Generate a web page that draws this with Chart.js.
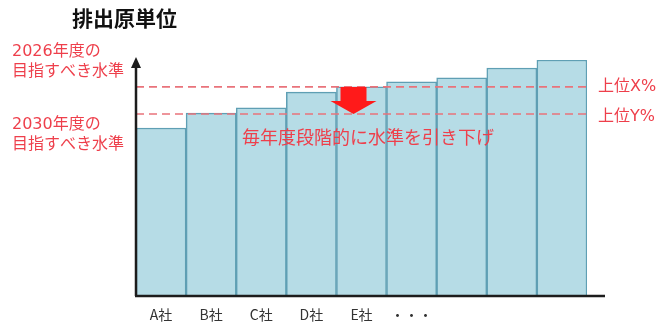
<!DOCTYPE html>
<html lang="ja">
<head>
<meta charset="utf-8">
<script src="https://cdn.jsdelivr.net/npm/chart.js@4/dist/chart.umd.min.js"></script>
<style>
    body { margin: 0; background: #fff; }
    #chart { display: block; }
</style>
</head>
<body>
<canvas id="chart" width="662" height="323"></canvas>
<script>
const companies = ["A社", "B社", "C社", "D社", "E社", "・・・", "", "", ""];
const intensity = [71.2, 77.5, 79.7, 86.4, 88.6, 90.7, 92.4, 96.6, 100];

// target levels (same units as the bars)
const target2026 = 88.6;
const target2030 = 77.1;

const JP_FONT = '"Noto Sans CJK JP", "Noto Sans", sans-serif';
const MIX_FONT = '"DejaVu Sans", "Noto Sans CJK JP", sans-serif';
const RED = "#ee3f4b";
const DASH_RED = "#e9737b";

const decorations = {
    id: "decorations",
    afterDatasetsDraw(chart) {
        const ctx = chart.ctx;
        const { left, bottom, right } = chart.chartArea;
        const x = chart.scales.x;
        const y = chart.scales.y;
        const yX = y.getPixelForValue(target2026);
        const yY = y.getPixelForValue(target2030);

        ctx.save();

        // dashed target lines
        ctx.strokeStyle = DASH_RED;
        ctx.lineWidth = 1.6;
        ctx.setLineDash([8, 5]);
        [yX, yY].forEach((py) => {
            ctx.beginPath();
            ctx.moveTo(left, py);
            ctx.lineTo(right, py);
            ctx.stroke();
        });
        ctx.setLineDash([]);

        // axes with arrow on the vertical one
        ctx.strokeStyle = "#1c1c1c";
        ctx.fillStyle = "#1c1c1c";
        ctx.lineWidth = 2.5;
        ctx.beginPath();
        ctx.moveTo(left, bottom);
        ctx.lineTo(left, 66);
        ctx.moveTo(left - 1, bottom);
        ctx.lineTo(605, bottom);
        ctx.stroke();
        ctx.beginPath();
        ctx.moveTo(left, 57);
        ctx.lineTo(left - 5, 68);
        ctx.lineTo(left + 5, 68);
        ctx.closePath();
        ctx.fill();

        // downward arrow between the two targets
        const ax = x.getPixelForValue(4) - 8;
        ctx.fillStyle = "#ff1a1a";
        ctx.beginPath();
        ctx.moveTo(ax - 13, yX);
        ctx.lineTo(ax + 13, yX);
        ctx.lineTo(ax + 13, yX + 14);
        ctx.lineTo(ax + 23, yX + 14);
        ctx.lineTo(ax, yY);
        ctx.lineTo(ax - 23, yX + 14);
        ctx.lineTo(ax - 13, yX + 14);
        ctx.closePath();
        ctx.fill();

        // texts
        ctx.textBaseline = "middle";
        ctx.fillStyle = "#111";
        ctx.font = "bold 21px " + JP_FONT;
        ctx.textAlign = "left";
        ctx.fillText("排出原単位", 72, 18);

        ctx.fillStyle = RED;
        ctx.font = "16px " + MIX_FONT;
        ctx.fillText("2026年度の", 12, 52);
        ctx.fillText("目指すべき水準", 12, 72);
        ctx.fillText("2030年度の", 12, 125);
        ctx.fillText("目指すべき水準", 12, 145);
        ctx.fillText("上位X%", 598, yX);
        ctx.fillText("上位Y%", 598, yY + 3);

        ctx.font = "18px " + JP_FONT;
        ctx.textAlign = "center";
        ctx.fillText("毎年度段階的に水準を引き下げ", 368, 137);

        ctx.restore();
    },
};

new Chart(document.getElementById("chart"), {
    type: "bar",
    data: {
        labels: companies,
        datasets: [
            {
                data: intensity,
                backgroundColor: "#b6dce6",
                borderColor: "#5f9fb4",
                borderWidth: 1.5,
                categoryPercentage: 1,
                barPercentage: 1,
            },
        ],
    },
    options: {
        responsive: false,
        devicePixelRatio: 1,
        animation: false,
        layout: {
            padding: { left: 136, right: 75, top: 60, bottom: 0 },
        },
        plugins: {
            legend: { display: false },
            tooltip: { enabled: false },
        },
        scales: {
            x: {
                grid: { display: false, drawTicks: false },
                border: { display: false },
                ticks: {
                    padding: 10,
                    color: "#333",
                    font: { family: JP_FONT, size: 14 },
                    maxRotation: 0,
                    autoSkip: false,
                },
                afterFit(scale) {
                    scale.height = 27;
                },
            },
            y: {
                display: false,
                min: 0,
                max: 100,
            },
        },
    },
    plugins: [decorations],
});
</script>
</body>
</html>
